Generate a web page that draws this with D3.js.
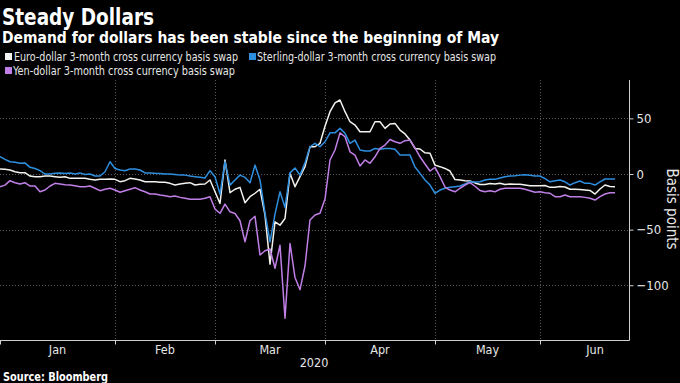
<!DOCTYPE html>
<html><head><meta charset="utf-8">
<script src="https://cdn.jsdelivr.net/npm/d3@7"></script>
<style>
html,body{margin:0;padding:0;background:#000;}
svg{display:block;}
text{font-family:"DejaVu Sans Condensed","DejaVu Sans",sans-serif;}
</style></head><body>
<svg id="chart" width="680" height="383"></svg>
<script>
// ---- DATA (weekday observations from 2020-01-01) ----
const seriesNames = ["Euro-dollar 3-month cross currency basis swap",
                     "Sterling-dollar 3-month cross currency basis swap",
                     "Yen-dollar 3-month cross currency basis swap"];
const euro = [
  4.5, 4.2, 3.6, 2, 1.2, 1.2, -1.8, -2.4, -2.4, -1.8, -1.8, -2.4, -3, -2.4, -3.9, -3.9, -3.9, -3.9, -4.8, -5.4, -4.8, -4.8, -4.5,
  -4.8, -6.9, -6, -3.9, -4.5, -5.4, -6.9, -6.9, -6.9, -7.5, -7.5, -8.4, -9.9, -9, -8.4, -7.8, -9.9, -9.3, -9, -5.4,
  -16, -26.5, 12.6, -16.8, -13.7, -12, -25.8, -20.4, -17.3, -13.7, -37, -81, -43, -46, -40, 0.6, -11.4, -2.4, 6.6, 24.5, 24.5, 27.6,
  43, 56, 64, 66.5, 56, 47, 44, 38, 38, 38, 47, 47, 41, 45, 45.5, 39.5, 36, 30.5, 23, 22.5, 19, 18.6,
  8, 6.6, 5, 2.7, -5, -5.4, -6, -6.3, -8, -9.4, -9.4, -8.5, -9, -8.4, -9.4, -9, -9.2, -9.2, -9.9, -10.5, -10.5,
  -10.5, -10.3, -12, -12, -11.2, -11.7, -13.7, -13.7, -14, -14.4, -14.8, -18, -13.5, -9.9, -11.2, -11.4
];
const sterling = [
  15.5, 13.2, 11, 10.5, 9.6, 10, 6, 5, 3, 0, 0, 0.6, 1, 0.5, 1, 0, 1, -0.5, 0, -1.8, -1.8, 2, 11,
  5, 3.6, 3, 4.5, 4.5, 3.6, 1, 1, 0.6, 0.5, 0, 0, -0.5, -1, -1, -1.8, -2.4, -3, -3.6, 3,
  -2.4, -18, 11, -10, -5.4, -1, -3, -7.8, 8, -5.4, -35, -61, -36, -16, -30, 1, 5.4, -1, 10, 24.5, 27.6, 24.5,
  29, 37, 37, 41, 36.6, 27.6, 30.5, 21.6, 20.7, 20.7, 23, 22.2, 23, 23, 22.2, 17, 17, 17, 6.3, 0.6, -5.4, -9.9,
  -17.3, -14.4, -12.8, -12, -11.4, -10.8, -9, -7, -7.2, -7, -5.4, -4.8, -4.8, -3.6, -2.4, -1.8, -1.5, -1, -0.6, -1.2, -1.8,
  -1.8, -4.2, -7, -6, -5.4, -7, -9.9, -7.8, -6.3, -8.4, -8.4, -9.9, -7, -4.5, -4.5, -4.5
];
const yen = [
  -11.4, -10, -6, -7.8, -9, -7.8, -10.8, -10.8, -16, -14.4, -10.8, -8.4, -9, -9.6, -9.9, -10.5, -11.4, -11.4, -10.8, -12.8, -15, -13.7, -12.8,
  -14.4, -16.4, -15, -13.7, -12.3, -14.4, -16, -18, -18, -18.9, -19.5, -20.4, -19.8, -21, -21.8, -22.7, -22.7, -22.7, -21.8, -20.4,
  -31.5, -35.3, -27, -34, -35.5, -42, -61, -42, -38, -72.8, -69, -67.4, -84.7, -64, -129.6, -62.4, -93, -104, -82.7, -41.3, -36.8, -35.3,
  -22.5, 12.6, 21.6, 37, 33.5, 20, 17, 7.2, 12.6, 9.6, 15.5, 23, 26, 31, 29, 27.6, 30, 30.5, 23.4, 15.5, 9, 2.7,
  6, -2.4, -11.7, -14.4, -16, -12.8, -9.9, -7.8, -11, -14.8, -16, -15, -16, -13.7, -12.8, -12.8, -12.8, -12.8, -13.7, -15, -16.4,
  -16, -16.8, -17.3, -20.4, -20.4, -18.9, -20.4, -20.4, -20.4, -21, -21.8, -23.4, -20.4, -18, -16.8, -16.8
];
const monthLabels = ["Jan", "Feb", "Mar", "Apr", "May", "Jun"];
const yearLabel = "2020";
const yTicks = [50, 0, -50, -100];
const colors = ["#f2f2ee", "#2f8fdf", "#c07fe6"];

// ---- LAYOUT ----
const svg = d3.select("#chart");
svg.append("rect").attr("width", 680).attr("height", 383).attr("fill", "#000");
const plotLeft = 0, plotRight = 629, plotTop = 80, plotBottom = 340;

// weekday calendar (business-day axis)
const weekdays = d3.timeDay.range(new Date(2020, 0, 1), new Date(2020, 6, 1))
  .filter(d => d.getDay() !== 0 && d.getDay() !== 6);
const monthStarts = d3.range(0, 7).map(m => {
  const i = weekdays.findIndex(d => d.getMonth() === m);
  return i < 0 ? weekdays.length : i;
});

const x = d3.scaleLinear().domain([0, 125.8]).range([plotLeft, plotRight]);
const y = d3.scaleLinear().domain([-149.2, 84.5]).range([plotBottom, plotTop]);

// grid
const grid = svg.append("g").attr("stroke", "#5a5a5a").attr("stroke-dasharray", "1,2").attr("stroke-width", 1);
grid.selectAll("line.h").data(yTicks).join("line")
  .attr("x1", plotLeft).attr("x2", plotRight)
  .attr("y1", d => Math.round(y(d)) + 0.5).attr("y2", d => Math.round(y(d)) + 0.5);
grid.selectAll("line.v").data(monthStarts.slice(1, 6)).join("line")
  .attr("x1", d => Math.round(x(d)) + 0.5).attr("x2", d => Math.round(x(d)) + 0.5)
  .attr("y1", plotTop).attr("y2", plotBottom);

// lines
const line = d3.line().x((d, i) => x(i)).y(d => y(d));
[euro, sterling, yen].forEach((s, k) => {
  svg.append("path").datum(s).attr("d", line)
    .attr("fill", "none").attr("stroke", colors[k]).attr("stroke-width", 1.5)
    .attr("stroke-linejoin", "round");
});

// axes
const axisColor = "#cfcfcf";
const xAxis = svg.append("g").attr("transform", `translate(0,${plotBottom + 0.5})`)
  .call(d3.axisBottom(x).tickValues(monthStarts.slice(0, 6)).tickFormat("").tickSizeInner(4).tickSizeOuter(0));
xAxis.select(".domain").attr("stroke", axisColor).attr("d", `M${plotLeft},0H${plotRight + 0.5}`);
xAxis.selectAll(".tick line").attr("stroke", axisColor);

svg.append("g").selectAll("text").data(monthLabels).join("text")
  .attr("x", (d, i) => x((monthStarts[i] + monthStarts[i + 1]) / 2))
  .attr("y", 354).attr("text-anchor", "middle")
  .attr("fill", "#e6e6e6").attr("font-size", 12.5).text(d => d);
svg.append("text").attr("x", 314).attr("y", 367).attr("text-anchor", "middle")
  .attr("fill", "#e6e6e6").attr("font-size", 12.5).text(yearLabel);

const yAxis = svg.append("g").attr("transform", `translate(${plotRight + 0.5},0)`)
  .call(d3.axisRight(y).tickValues(yTicks).tickSize(4).tickPadding(3));
yAxis.select(".domain").attr("stroke", axisColor).attr("d", `M0,${plotTop}V${plotBottom + 0.5}`);
yAxis.selectAll(".tick line").attr("stroke", axisColor);
yAxis.selectAll(".tick text").attr("fill", "#e6e6e6").attr("font-size", 13)
  .attr("font-family", "'DejaVu Sans Condensed','DejaVu Sans',sans-serif");

svg.append("text").attr("transform", "translate(667,209) rotate(90)")
  .attr("text-anchor", "middle").attr("fill", "#e6e6e6").attr("font-size", 15)
  .text("Basis points");

// titles
svg.append("text").attr("x", 2).attr("y", 25).attr("fill", "#fff")
  .attr("font-size", 23).attr("font-weight", "bold")
  .attr("textLength", 152).attr("lengthAdjust", "spacingAndGlyphs").text("Steady Dollars");
svg.append("text").attr("x", 2).attr("y", 43).attr("fill", "#fff")
  .attr("font-size", 16.5).attr("font-weight", "bold")
  .attr("textLength", 497).attr("lengthAdjust", "spacingAndGlyphs")
  .text("Demand for dollars has been stable since the beginning of May");

// legend
const legendItems = [
  {name: seriesNames[0], color: colors[0], sx: 5, tx: 14, y: 57, w: 224},
  {name: seriesNames[1], color: colors[1], sx: 249, tx: 257, y: 57, w: 239},
  {name: seriesNames[2], color: colors[2], sx: 5, tx: 13, y: 71, w: 222}
];
const lg = svg.append("g");
legendItems.forEach(it => {
  lg.append("rect").attr("x", it.sx).attr("y", it.y - 4).attr("width", 7).attr("height", 7).attr("fill", it.color);
  lg.append("text").attr("x", it.tx).attr("y", it.y + 4).attr("fill", "#e6e6e6")
    .attr("font-size", 12).attr("textLength", it.w).attr("lengthAdjust", "spacingAndGlyphs").text(it.name);
});

svg.append("text").attr("x", 3).attr("y", 381).attr("fill", "#fff")
  .attr("font-size", 11.5).attr("font-weight", "bold")
  .attr("textLength", 105).attr("lengthAdjust", "spacingAndGlyphs").text("Source: Bloomberg");
</script>
</body></html>
